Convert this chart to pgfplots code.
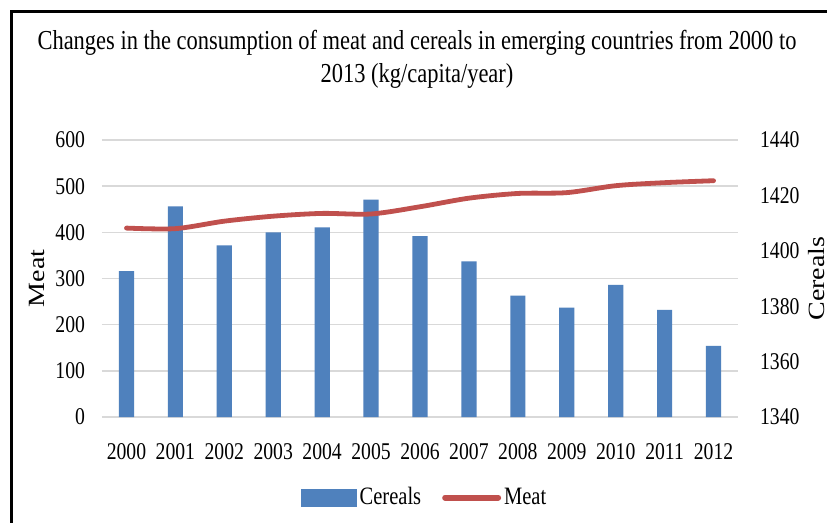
\documentclass[border=0pt]{standalone}
\usepackage{graphicx}
\usepackage{pgfplots}
\pgfplotsset{compat=1.18}
\usepackage{fontspec}
\setmainfont{Liberation Serif}[FakeStretch=0.82]
\newfontfamily\rotfont{Liberation Serif}
\definecolor{barblue}{HTML}{4F81BD}
\definecolor{linered}{HTML}{C0504D}
\definecolor{gridgray}{HTML}{D9D9D9}
\begin{document}
\begin{tikzpicture}
\path[use as bounding box] (0,0) rectangle (414pt,-261.5pt);
\fill[white] (0,0) rectangle (414pt,-261.5pt);
\draw[black, line width=1.5pt] (5.75pt,-262pt) -- (5.75pt,-5.75pt) -- (413.3pt,-5.75pt);
\node[align=center, font=\fontsize{13.7}{16.5}\selectfont] at (208.5pt,-29.75pt)
  {Changes in the consumption of meat and cereals in emerging countries from 2000 to\\2013 (kg/capita/year)};
\begin{axis}[
  at={(51pt,-208.5pt)}, anchor=south west,
  width=318pt, height=138.5pt, scale only axis,
  xmin=-0.5, xmax=12.5, ymin=0, ymax=600,
  xtick={0,1,2,3,4,5,6,7,8,9,10,11,12},
  xticklabels={2000,2001,2002,2003,2004,2005,2006,2007,2008,2009,2010,2011,2012},
  ytick={0,100,200,300,400,500,600},
  ymajorgrids, grid style={gridgray, line width=0.8pt},
  axis line style={draw=none},
  major tick length=0pt,
  tick label style={font=\fontsize{12}{14}\selectfont},
  /pgf/number format/assume math mode=true,
  yticklabel style={xshift=-5pt},
  xticklabel style={yshift=-9.5pt},
  ylabel={\scalebox{1}[0.83]{\rotfont\fontsize{14}{16}\selectfont Meat}},
  ylabel style={at={(axis description cs:-0.102,0.5)}, anchor=center},
]
\addplot[ybar, bar width=7.6pt, fill=barblue, draw=none] coordinates {
(0,316) (1,456) (2,372) (3,400) (4,411) (5,471) (6,392) (7,337) (8,263) (9,237) (10,286) (11,232) (12,154)};
\end{axis}
\begin{axis}[
  at={(51pt,-208.5pt)}, anchor=south west,
  width=318pt, height=138.5pt, scale only axis,
  xmin=-0.5, xmax=12.5, ymin=1340, ymax=1440,
  axis y line*=right, axis x line=none,
  ytick={1340,1360,1380,1400,1420,1440},
  axis line style={draw=none},
  major tick length=0pt,
  tick label style={font=\fontsize{12}{14}\selectfont},
  /pgf/number format/assume math mode=true,
  /pgf/number format/1000 sep={},
  yticklabel style={xshift=7.5pt},
  ylabel={\scalebox{1}[0.83]{\rotfont\fontsize{14}{16}\selectfont Cereals}},
  ylabel style={at={(axis description cs:1.1235,0.5)}, anchor=center, rotate=0, inner sep=0pt},
  legend style={at={(0.508,-0.291)}, anchor=center, draw=none, fill=none,
    legend columns=2, font=\fontsize{12.5}{14}\selectfont,
    nodes={inner sep=1.5pt},
    /tikz/every even column/.append style={column sep=9pt}},
]
\addlegendimage{legend image code/.code={\fill[barblue] (0pt,-4.25pt) rectangle (27.5pt,4.25pt);}}
\addlegendentry{Cereals}
\addplot[linered, line width=2.4pt, smooth, line cap=round,
  legend image code/.code={\draw[linered, line width=3pt, line cap=round] (1.5pt,0pt) -- (28pt,0pt);}] coordinates {
(0,1408.2) (1,1408.0) (2,1410.7) (3,1412.5) (4,1413.5) (5,1413.3) (6,1415.9) (7,1419.0) (8,1420.7) (9,1421.0) (10,1423.5) (11,1424.6) (12,1425.3)};
\addlegendentry{Meat}
\end{axis}
\end{tikzpicture}
\end{document}
